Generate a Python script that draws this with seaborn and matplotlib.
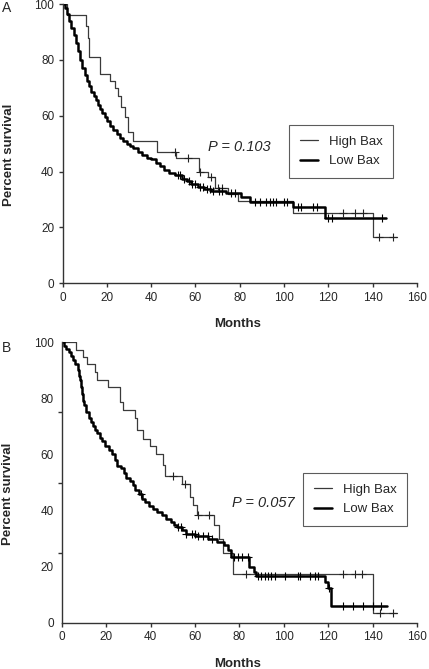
import numpy as np
import pandas as pd
import seaborn as sns
import matplotlib.pyplot as plt

# ---- Panel A: Kaplan-Meier steps (months, percent survival) ----
a_high_t = [0, 2, 10.5, 11.5, 12, 17, 21.5, 23.5, 25, 26.5, 28, 29.5, 32, 42.5, 51.4, 61.5, 65.7, 68.7, 74.7, 79.2, 104, 140, 151]
a_high_s = [100, 96, 92, 88, 81, 75, 72.5, 70, 67, 63, 59.5, 54, 51, 47, 44.7, 40, 38, 34, 32, 29.5, 25, 16.5, 16.5]
a_high_cens = [51, 56.6, 61.9, 67.2, 70, 72, 126.5, 131.8, 135.5, 143, 149]

a_low_t = [0, 1, 2, 3, 4, 5, 6, 7, 8, 9, 10, 11, 12, 13, 14, 15, 16, 17, 18, 19, 20, 21.5, 23, 24.5, 26,
           27.5, 29, 30.5, 32, 34, 36, 38, 40, 42, 44, 46, 48, 51, 54, 56, 58, 61, 64, 67, 74, 80.7, 84.5,
           104, 118.7, 146]
a_low_s = [100, 98.5, 96.5, 94, 91.5, 89, 86, 83, 80, 77, 74.5, 72.5, 70.5, 68.5, 67, 65.5, 64, 62.5, 61, 59.5,
           58, 56.5, 55, 53.5, 52, 51, 50, 49, 48.5, 47, 46, 45, 44.5, 43, 42, 40.5, 39.5, 38.8, 37.5, 36.5,
           35.5, 34.5, 33.8, 33.2, 32.2, 31, 29.2, 27.2, 23.5, 23.5]
a_low_cens = [52, 53, 55, 57, 58.5, 60, 62, 63.5, 65, 66.5, 68, 70.5, 72, 76, 78, 87, 89, 92, 93.5, 95, 96.5,
              100, 101.5, 106.5, 107.5, 113, 115, 120, 121.5, 144]
a_pval = 'P = 0.103'

# ---- Panel B ----
b_high_t = [0, 6.4, 9.6, 11.4, 14.9, 15.6, 20.9, 26.1, 27.6, 32.9, 33.9, 36.6, 39.6, 42.3, 45.6, 46.4, 54,
            57.7, 59.1, 60.7, 68.5, 70.9, 72.4, 77.2, 140.2, 150.8]
b_high_s = [100, 97.3, 94.8, 92.3, 89.3, 86.6, 84, 78.6, 76, 73.1, 68.6, 65.6, 62.9, 60.3, 56.1, 52.2, 49.6,
            45, 42, 38.3, 34.8, 30, 24.7, 17.2, 3.6, 3.6]
b_high_cens = [50.1, 55.4, 61.5, 66.4, 83, 126.7, 132, 135, 143.2, 149.2]

b_low_t = [0, 1, 2, 3, 4, 5, 6, 7, 7.5, 8, 8.5, 9, 9.5, 10, 11, 12, 13, 14, 15, 16, 17, 18, 19.5, 21, 22.5,
           24, 25, 26.5, 28, 29, 30.5, 32, 33, 34.5, 36, 37.5, 39, 41, 43, 45, 47, 49, 50.5, 52, 54, 56, 60,
           66, 70, 73, 75, 76, 84.5, 86.5, 87.5, 118.5, 120, 121.3, 146.3]
b_low_s = [100, 98.8, 97.5, 96.4, 95, 93.8, 92.3, 90, 88, 86.4, 84, 81.5, 79, 77.5, 75, 73, 71.5, 70, 68.8,
           67.5, 66, 64.8, 63, 61.5, 60, 58, 56, 55, 53.5, 51.5, 50.5, 49, 47.5, 46, 44, 43, 41.5, 40.5, 39.5,
           38.5, 37, 36, 35, 34, 33, 31.5, 30.8, 29.8, 28.8, 27.7, 25.9, 23.5, 20, 18.1, 16.6, 14.5, 12.2, 5.9, 5.9]
b_low_cens = [35.8, 52.2, 53.7, 56.1, 58.4, 59.9, 61.4, 63.7, 65.9, 67.5, 77.5, 79.5, 81, 83.9, 88.4, 89.9,
              91.4, 92.9, 94.4, 95.9, 100.4, 106.4, 107.2, 111.7, 113.9, 115.4, 120.5, 126.7, 131.2, 135.5,
              140, 143.7]
b_pval = 'P = 0.057'

x_ticks = [0, 20, 40, 60, 80, 100, 120, 140, 160]
y_ticks = [0, 20, 40, 60, 80, 100]


def surv_at(t, s, times):
    # survival of a step curve at the censoring times
    t = np.asarray(t)
    s = np.asarray(s)
    idx = np.searchsorted(t, times, side='right') - 1
    return s[idx]


sns.set_style('ticks')
plt.rcParams['font.family'] = ['Liberation Sans', 'DejaVu Sans']

fig = plt.figure(figsize=(4.29, 6.69), dpi=100)
ax_a = fig.add_axes([0.1457, 0.5765, 0.8263, 0.4175])
ax_b = fig.add_axes([0.1445, 0.0692, 0.8275, 0.4191])


def draw_panel(ax, ht, hs, hc, lt, ls, lc, ptxt, pxy, leg_xy, odd_ticks):
    high = pd.DataFrame({'Months': ht, 'Survival': hs})
    low = pd.DataFrame({'Months': lt, 'Survival': ls})
    sns.lineplot(data=high, x='Months', y='Survival', drawstyle='steps-post', estimator=None, sort=False,
                 color='#3a3a3a', linewidth=0.9, label='High Bax', ax=ax)
    sns.lineplot(data=low, x='Months', y='Survival', drawstyle='steps-post', estimator=None, sort=False,
                 color='black', linewidth=1.8, label='Low Bax', ax=ax)
    sns.scatterplot(x=hc, y=surv_at(ht, hs, hc), marker='+', s=38, linewidth=0.8, color='#222222',
                    legend=False, ax=ax, zorder=3)
    sns.scatterplot(x=lc, y=surv_at(lt, ls, lc), marker='+', s=38, linewidth=0.8, color='black',
                    legend=False, ax=ax, zorder=3)

    ax.text(pxy[0], pxy[1], ptxt, style='italic', fontsize=10.5, ha='left', va='center')

    ax.set_xlim(0, 160)
    ax.set_ylim(0, 100)
    ax.set_xticks(x_ticks)
    ax.set_yticks(y_ticks)
    ax.tick_params(labelsize=8.5, length=3, width=1, color='#333333', pad=3)
    if odd_ticks:
        # tick marks at quarters, labels at fifths (as in the original figure)
        ax.tick_params(axis='y', length=0, pad=6)
        ax.set_yticks([0, 25, 50, 75, 100], minor=True)
        ax.tick_params(axis='y', which='minor', length=3, width=1, color='#333333')
    sns.despine(ax=ax)
    for side in ['left', 'bottom']:
        ax.spines[side].set_color('#333333')
        ax.spines[side].set_linewidth(1)

    ax.set_xlabel('Months', fontsize=9.5, fontweight='bold')
    ax.set_ylabel('Percent survival', fontsize=9.5, fontweight='bold')
    ax.xaxis.set_label_coords(0.494, -0.125)
    ax.yaxis.set_label_coords(-0.135, 0.46)

    leg = ax.legend(loc='upper left', bbox_to_anchor=leg_xy, fontsize=9.5, frameon=True, fancybox=False,
                    handlelength=1.4, handletextpad=0.8, borderpad=0.8, labelspacing=0.55, borderaxespad=0)
    leg.get_frame().set_edgecolor('#333333')
    leg.get_frame().set_linewidth(0.8)


draw_panel(ax_a, a_high_t, a_high_s, a_high_cens, a_low_t, a_low_s, a_low_cens,
           a_pval, (65.7, 48.8), (0.639, 0.567), False)
draw_panel(ax_b, b_high_t, b_high_s, b_high_cens, b_low_t, b_low_s, b_low_cens,
           b_pval, (76.6, 42.7), (0.679, 0.534), True)

fig.text(2 / 429, 1 - 8.5 / 669, 'A', fontsize=10, va='center', ha='left')
fig.text(2 / 429, 1 - 348 / 669, 'B', fontsize=10, va='center', ha='left')

fig.savefig('out.png', dpi=100)
